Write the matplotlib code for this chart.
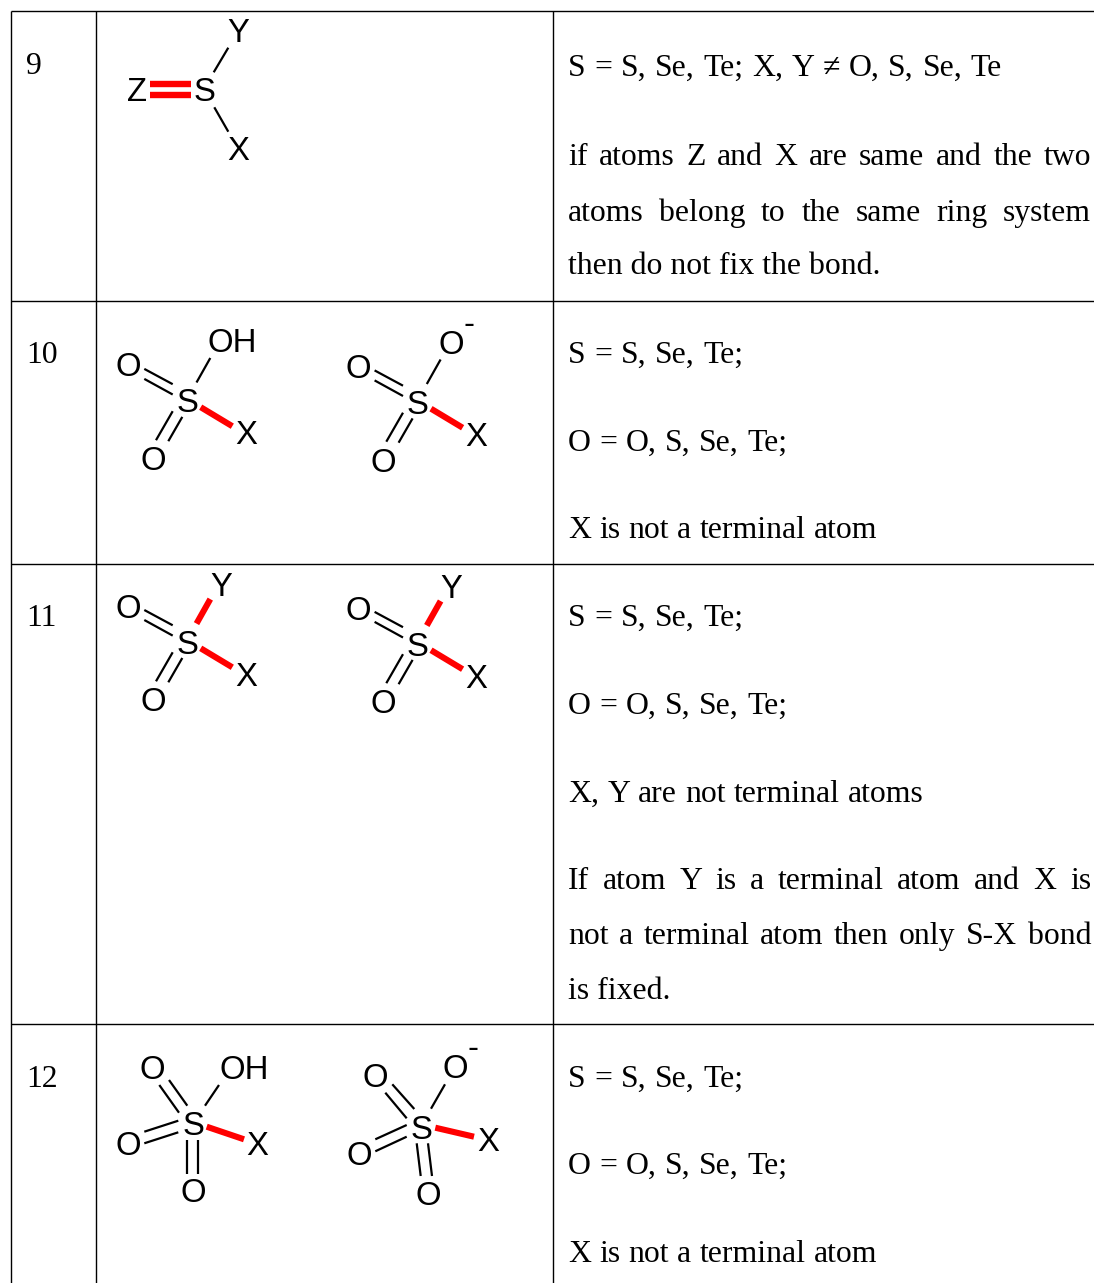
import matplotlib

matplotlib.use("Agg")
import matplotlib.pyplot as plt

W, H = 1094, 1283
SERIF = "Liberation Serif"
SANS = "Liberation Sans"
TEXT_SIZE = 22.9
ATOM_SIZE = 23.7
THIN = 1.6
THICK = 4.4
ATOM_SHIFT = -0.7

# table grid
col_x = [10.5, 96, 553]
row_y = [11, 301, 564, 1024]

row_numbers = ["9", "10", "11", "12"]
number_baselines = [74, 363, 626, 1087]

# (text, baseline, right edge when spread out)
right_lines = [
    ("S = S, Se, Te; X, Y \u2260 O, S, Se, Te", 76, 1002),
    ("if atoms Z and X are same and the two", 165, 1091),
    ("atoms belong to the same ring system", 221, 1091),
    ("then do not fix the bond.", 274, None),
    ("S = S, Se, Te;", 363, 743),
    ("O = O, S, Se, Te;", 451, 787),
    ("X is not a terminal atom", 538, 877),
    ("S = S, Se, Te;", 626, 743),
    ("O = O, S, Se, Te;", 714, 787),
    ("X, Y are not terminal atoms", 802, 924),
    ("If atom Y is a terminal atom and X is", 889, 1091),
    ("not a terminal atom then only S-X bond", 944, 1091),
    ("is fixed.", 999, None),
    ("S = S, Se, Te;", 1087, 743),
    ("O = O, S, Se, Te;", 1174, 787),
    ("X is not a terminal atom", 1262, 877),
]
text_left = 568

# sulfonyl bonds relative to the S atom: start, end
sulfonyl_double = [
    ((-42.7, -32.3), (-14.3, -17)),
    ((-42.7, -22.3), (-14.3, -6.7)),
    ((-31, 39), (-14.3, 10)),
    ((-18.7, 40), (-4.7, 15.7)),
]
sulfonyl_x = ((13.7, 6), (45.3, 25))
sulfonyl_top = ((9.5, -18.7), (23.3, -43.2))
sulfonyl_atoms = [("O", -58.7, -36), ("O", -34, 57.5), ("X", 59, 32), ("S", 0, 0)]

row10_centers = [(187, 401.2), (417.3, 402.7)]
row11_centers = [(187, 642.3), (417.3, 644.2)]

# row 12 molecules in absolute picture coordinates
row12_black = [
    ((159.3, 1085), (179, 1112.7)), ((169, 1080), (187.3, 1105.7)),
    ((205, 1105.7), (219, 1085)),
    ((144.3, 1131.7), (178.3, 1120.7)), ((144.3, 1143.3), (178.3, 1132.3)),
    ((186.7, 1140), (186.7, 1174)), ((198, 1140), (198, 1174)),
    ((385.3, 1092.7), (406.7, 1118.3)), ((392.3, 1084.3), (414.3, 1109)),
    ((431, 1108.7), (445, 1084.3)),
    ((375.3, 1139.3), (406.7, 1125)), ((375.3, 1151.3), (406.7, 1136.7)),
    ((416.7, 1143.3), (420.7, 1176)), ((428, 1143.3), (432, 1176)),
]
row12_red = [((206.7, 1126.7), (244, 1139.3)), ((435.3, 1127.7), (474, 1136.7))]
row12_atoms = [
    ("O", 152.3, 1068), ("OH", 244, 1067.7), ("O", 128, 1143.3), ("X", 257.7, 1143.3),
    ("O", 193, 1190.7), ("S", 193, 1124),
    ("O", 375.7, 1075.7), ("O", 455, 1066.7), ("O", 359, 1153.3), ("X", 488.3, 1140),
    ("O", 428.3, 1193.3), ("S", 421.7, 1127.3),
]
row12_minus = [(472.7, 1046.7)]

fig = plt.figure(figsize=(W / 100, H / 100), dpi=100)
ax = fig.add_axes([0, 0, 1, 1])
ax.set_xlim(0, W)
ax.set_ylim(H, 0)
ax.axis("off")


def bond(start, end, color="black", lw=THIN, origin=(0, 0)):
    ax.plot(
        [origin[0] + start[0], origin[0] + end[0]],
        [origin[1] + start[1], origin[1] + end[1]],
        color=color, lw=lw, solid_capstyle="butt",
    )


def atom(label, x, y):
    ax.text(x, y + ATOM_SHIFT, label, family=SANS, fontsize=ATOM_SIZE,
            ha="center", va="center_baseline")


def sulfonyl(center, top_label, top_red=False):
    for start, end in sulfonyl_double:
        bond(start, end, origin=center)
    bond(*sulfonyl_x, color="red", lw=THICK, origin=center)
    if top_red:
        bond(*sulfonyl_top, color="red", lw=THICK, origin=center)
    else:
        bond(*sulfonyl_top, origin=center)
    for label, dx, dy in sulfonyl_atoms:
        atom(label, center[0] + dx, center[1] + dy)
    dx = 45 if top_label == "OH" else 34
    dy = -60.5 if top_label != "Y" else -58
    atom(top_label, center[0] + dx, center[1] + dy)
    if top_label == "O":
        atom("-", center[0] + 52, center[1] + -80)


def spread(text, baseline, right):
    words = text.split(" ")
    renderer = fig.canvas.get_renderer()
    artists = [
        ax.text(0, baseline, w, family=SERIF, fontsize=TEXT_SIZE, ha="left", va="baseline")
        for w in words
    ]
    widths = [a.get_window_extent(renderer).width for a in artists]
    gap = (right - text_left - sum(widths)) / (len(words) - 1)
    x = text_left
    for a, width in zip(artists, widths):
        a.set_x(x)
        x += width + gap


# grid
for x in col_x:
    ax.plot([x, x], [row_y[0], H], color="black", lw=1.0, solid_capstyle="butt")
for y in row_y:
    ax.plot([col_x[0], W], [y, y], color="black", lw=1.0, solid_capstyle="butt")

# left column
for label, y in zip(row_numbers, number_baselines):
    ax.text(26, y, label, family=SERIF, fontsize=TEXT_SIZE, ha="left", va="baseline")

# right column
for text, y, right in right_lines:
    if right:
        spread(text, y, right)
    else:
        ax.text(text_left, y, text, family=SERIF, fontsize=TEXT_SIZE, ha="left", va="baseline")

# row 9 molecule
bond((213.7, 72.3), (228.3, 47.7))
bond((214.3, 107.3), (228.3, 131.7))
bond((150, 83.7), (191, 83.7), color="red", lw=THICK + 0.2)
bond((150, 94.7), (191, 94.7), color="red", lw=THICK + 0.2)
for label, x, y in [("Z", 137, 89.5), ("S", 204.5, 90), ("Y", 238, 31), ("X", 238, 148.5)]:
    atom(label, x, y)

# rows 10 and 11
sulfonyl(row10_centers[0], "OH")
sulfonyl(row10_centers[1], "O")
sulfonyl(row11_centers[0], "Y", top_red=True)
sulfonyl(row11_centers[1], "Y", top_red=True)

# row 12
for start, end in row12_black:
    bond(start, end)
for start, end in row12_red:
    bond(start, end, color="red", lw=THICK)
for label, x, y in row12_atoms:
    atom(label, x, y)
for x, y in row12_minus:
    atom("-", x, y)

fig.savefig("out.png", dpi=100)
plt.close(fig)
